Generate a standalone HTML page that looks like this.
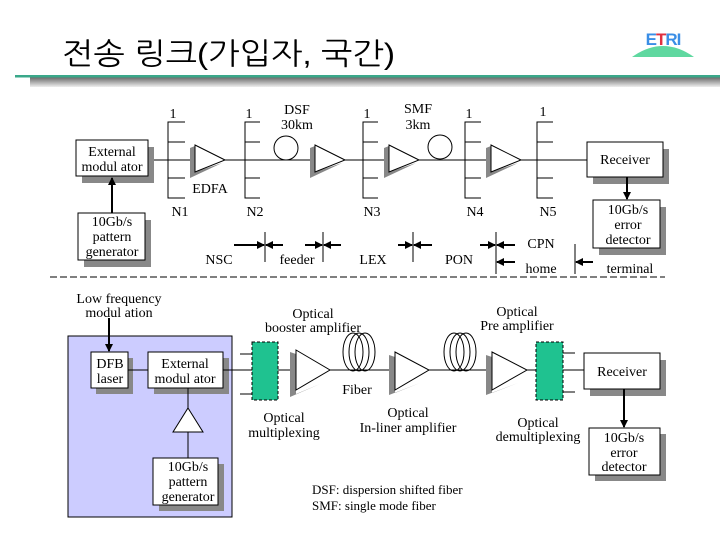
<!DOCTYPE html>
<html><head><meta charset="utf-8"><style>
html,body{margin:0;padding:0;background:#fff;}
svg{display:block;font-family:"Liberation Serif",serif;}
</style></head><body>
<svg width="720" height="540" viewBox="0 0 720 540" xmlns="http://www.w3.org/2000/svg">
<defs>
<linearGradient id="g" x1="0" y1="0" x2="0" y2="1"><stop offset="0" stop-color="#666"/><stop offset="1" stop-color="#eee"/></linearGradient>
<marker id="ah" markerWidth="8" markerHeight="8" refX="7" refY="4" orient="auto" markerUnits="userSpaceOnUse"><path d="M0,0 L8,4 L0,8 z" fill="#000"/></marker>
</defs>
<!-- title -->
<text x="62" y="64" font-family="'Liberation Sans','NanumGothic','Noto Sans CJK KR',sans-serif" font-size="30" textLength="333" lengthAdjust="spacingAndGlyphs">전송 링크(가입자, 국간)</text>
<rect x="30" y="77" width="690" height="10" fill="url(#g)"/>
<rect x="15" y="75" width="705" height="2.5" fill="#3aa88a"/>
<!-- ETRI -->
<path d="M632,57 Q663,35 694,57 Z" fill="#5fd8a0"/>
<text x="663" y="45" font-family="'Liberation Sans',sans-serif" font-weight="bold" font-size="17" fill="#3a8ee6" text-anchor="middle" letter-spacing="-1">E<tspan fill="#e03040">T</tspan>RI</text>

<g font-size="14" fill="#000">
<!-- top diagram -->
<line x1="150" y1="160" x2="587" y2="160" stroke="#000"/>
<rect x="82" y="147" width="72" height="36" fill="#888"/>
<rect x="76" y="140" width="72" height="36" fill="#fff" stroke="#000"/>
<text x="112" y="156" text-anchor="middle">External</text>
<text x="112" y="171" text-anchor="middle">modul ator</text>
<rect x="84" y="220" width="67" height="47" fill="#888"/>
<rect x="78" y="213" width="67" height="47" fill="#fff" stroke="#000"/>
<text x="112" y="226" text-anchor="middle">10Gb/s</text>
<text x="112" y="241" text-anchor="middle">pattern</text>
<text x="112" y="256" text-anchor="middle">generator</text>
<line x1="112" y1="213" x2="112" y2="178" stroke="#000" stroke-width="2" marker-end="url(#ah)"/>
<rect x="593" y="149" width="76" height="35" fill="#888"/>
<rect x="587" y="142" width="76" height="35" fill="#fff" stroke="#000"/>
<text x="625" y="164" text-anchor="middle">Receiver</text>
<line x1="627" y1="177" x2="627" y2="199" stroke="#000" stroke-width="2" marker-end="url(#ah)"/>
<rect x="599" y="207" width="67" height="48" fill="#888"/>
<rect x="593" y="200" width="67" height="48" fill="#fff" stroke="#000"/>
<text x="628" y="214" text-anchor="middle">10Gb/s</text>
<text x="628" y="229" text-anchor="middle">error</text>
<text x="628" y="244" text-anchor="middle">detector</text>
<g stroke="#000" fill="none">
<path d="M185,122 H168 V198 H185 M168,142 H185 M168,178 H185"/>
<path d="M260,122 H245 V198 H260 M245,142 H260 M245,178 H260"/>
<path d="M378,122 H363 V198 H378 M363,142 H378 M363,178 H378"/>
<path d="M481,122 H465 V198 H481 M465,142 H481 M465,178 H481"/>
<path d="M553,122 H537 V198 H553 M537,142 H553 M537,178 H553"/>
</g>
<text x="173" y="118" text-anchor="middle">1</text>
<text x="249" y="118" text-anchor="middle">1</text>
<text x="367" y="118" text-anchor="middle">1</text>
<text x="469" y="118" text-anchor="middle">1</text>
<text x="543" y="116" text-anchor="middle">1</text>
<g>
<polygon points="190,148 195,146 195,172 222,163 190,178" fill="#888"/>
<polygon points="195,145 225,160 195,172" fill="#fff" stroke="#000"/>
<polygon points="310,148 315,146 315,172 342,163 310,178" fill="#888"/>
<polygon points="315,145 345,160 315,172" fill="#fff" stroke="#000"/>
<polygon points="384,148 389,146 389,172 416,163 384,178" fill="#888"/>
<polygon points="389,145 419,160 389,172" fill="#fff" stroke="#000"/>
<polygon points="486,148 491,146 491,172 518,163 486,178" fill="#888"/>
<polygon points="491,145 521,160 491,172" fill="#fff" stroke="#000"/>
</g>
<circle cx="286" cy="148" r="12" fill="#fff" stroke="#000"/>
<circle cx="440" cy="147" r="12" fill="#fff" stroke="#000"/>
<text x="297" y="114" text-anchor="middle">DSF</text>
<text x="297" y="129" text-anchor="middle">30km</text>
<text x="418" y="113" text-anchor="middle">SMF</text>
<text x="418" y="129" text-anchor="middle">3km</text>
<text x="210" y="193" text-anchor="middle">EDFA</text>
<text x="180" y="216" text-anchor="middle">N1</text>
<text x="255" y="216" text-anchor="middle">N2</text>
<text x="372" y="216" text-anchor="middle">N3</text>
<text x="475" y="216" text-anchor="middle">N4</text>
<text x="548" y="216" text-anchor="middle">N5</text>
<g stroke="#000">
<line x1="265" y1="232" x2="265" y2="262"/>
<line x1="323" y1="232" x2="323" y2="262"/>
<line x1="413" y1="232" x2="413" y2="262"/>
<line x1="496" y1="232" x2="496" y2="274"/>
<line x1="575" y1="244" x2="575" y2="274"/>
<g stroke-width="2">
<line x1="234" y1="245" x2="264" y2="245" marker-end="url(#ah)"/>
<line x1="283" y1="245" x2="266" y2="245" marker-end="url(#ah)"/>
<line x1="305" y1="245" x2="322" y2="245" marker-end="url(#ah)"/>
<line x1="341" y1="245" x2="324" y2="245" marker-end="url(#ah)"/>
<line x1="398" y1="245" x2="412" y2="245" marker-end="url(#ah)"/>
<line x1="432" y1="245" x2="414" y2="245" marker-end="url(#ah)"/>
<line x1="480" y1="245" x2="495" y2="245" marker-end="url(#ah)"/>
<line x1="515" y1="245" x2="497" y2="245" marker-end="url(#ah)"/>
<line x1="515" y1="262" x2="497" y2="262" marker-end="url(#ah)"/>
<line x1="593" y1="262" x2="576" y2="262" marker-end="url(#ah)"/>
</g>
</g>
<text x="219" y="264" text-anchor="middle">NSC</text>
<text x="297" y="264" text-anchor="middle">feeder</text>
<text x="373" y="264" text-anchor="middle">LEX</text>
<text x="459" y="264" text-anchor="middle">PON</text>
<text x="541" y="248" text-anchor="middle">CPN</text>
<text x="541" y="273" text-anchor="middle">home</text>
<text x="630" y="273" text-anchor="middle">terminal</text>
<line x1="50" y1="277" x2="665" y2="277" stroke="#000" stroke-dasharray="7,3"/>

<text x="119" y="303" text-anchor="middle">Low frequency</text>
<text x="119" y="317" text-anchor="middle">modul ation</text>
<rect x="68" y="336" width="164" height="181" fill="#ccccff" stroke="#000"/>
<line x1="109" y1="318" x2="109" y2="351" stroke="#000" stroke-width="2" marker-end="url(#ah)"/>
<rect x="96" y="358" width="37" height="36" fill="#888"/>
<rect x="91" y="352" width="37" height="36" fill="#fff" stroke="#000"/>
<text x="110" y="368" text-anchor="middle">DFB</text>
<text x="110" y="383" text-anchor="middle">laser</text>
<rect x="154" y="358" width="75" height="36" fill="#888"/>
<rect x="148" y="352" width="75" height="36" fill="#fff" stroke="#000"/>
<text x="185" y="368" text-anchor="middle">External</text>
<text x="185" y="383" text-anchor="middle">modul ator</text>
<line x1="128" y1="370" x2="148" y2="370" stroke="#000"/>
<line x1="188" y1="388" x2="188" y2="458" stroke="#000"/>
<polygon points="188,408 203,432 173,432" fill="#fff" stroke="#000"/>
<rect x="159" y="464" width="65" height="47" fill="#888"/>
<rect x="153" y="458" width="65" height="47" fill="#fff" stroke="#000"/>
<text x="188" y="471" text-anchor="middle">10Gb/s</text>
<text x="188" y="486" text-anchor="middle">pattern</text>
<text x="188" y="501" text-anchor="middle">generator</text>
<line x1="223" y1="370" x2="584" y2="370" stroke="#000"/>
<path d="M240,354 H252 M240,394 H252 M563,353 H575 M563,392 H575" stroke="#000"/>
<rect x="252" y="342" width="26" height="58" fill="#1fc290" stroke="#000" stroke-dasharray="3,2"/>
<rect x="536" y="342" width="27" height="58" fill="#1fc290" stroke="#000" stroke-dasharray="3,2"/>
<polygon points="290,352 290,397 320,384 296,394 296,354" fill="#888"/>
<polygon points="296,350 330,370 296,390" fill="#fff" stroke="#000"/>
<polygon points="389,355 389,395 420,383 395,393 395,357" fill="#888"/>
<polygon points="395,352 429,370 395,390" fill="#fff" stroke="#000"/>
<polygon points="486,355 486,395 518,383 492,393 492,357" fill="#888"/>
<polygon points="492,352 527,370 492,390" fill="#fff" stroke="#000"/>
<g fill="none" stroke="#000">
<ellipse cx="353" cy="352" rx="10" ry="19"/><ellipse cx="359" cy="352" rx="10" ry="19"/><ellipse cx="365" cy="352" rx="10" ry="19"/>
<ellipse cx="454" cy="352" rx="10" ry="19"/><ellipse cx="460" cy="352" rx="10" ry="19"/><ellipse cx="466" cy="352" rx="10" ry="19"/>
</g>
<rect x="590" y="360" width="76" height="36" fill="#888"/>
<rect x="584" y="353" width="76" height="36" fill="#fff" stroke="#000"/>
<text x="622" y="376" text-anchor="middle">Receiver</text>
<line x1="624" y1="389" x2="624" y2="427" stroke="#000" stroke-width="2" marker-end="url(#ah)"/>
<rect x="595" y="434" width="71" height="47" fill="#888"/>
<rect x="589" y="428" width="71" height="47" fill="#fff" stroke="#000"/>
<text x="624" y="442" text-anchor="middle">10Gb/s</text>
<text x="624" y="457" text-anchor="middle">error</text>
<text x="624" y="471" text-anchor="middle">detector</text>
<text x="313" y="318" text-anchor="middle">Optical</text>
<text x="313" y="332" text-anchor="middle">booster amplifier</text>
<text x="357" y="394" text-anchor="middle">Fiber</text>
<text x="284" y="422" text-anchor="middle">Optical</text>
<text x="284" y="437" text-anchor="middle">multiplexing</text>
<text x="408" y="417" text-anchor="middle">Optical</text>
<text x="408" y="432" text-anchor="middle">In-liner amplifier</text>
<text x="517" y="316" text-anchor="middle">Optical</text>
<text x="517" y="330" text-anchor="middle">Pre amplifier</text>
<text x="538" y="427" text-anchor="middle">Optical</text>
<text x="538" y="441" text-anchor="middle">demultiplexing</text>
<text x="312" y="494" font-size="13">DSF: dispersion shifted fiber</text>
<text x="312" y="510" font-size="13">SMF: single mode fiber</text>
</g>
</svg>
</body></html>
